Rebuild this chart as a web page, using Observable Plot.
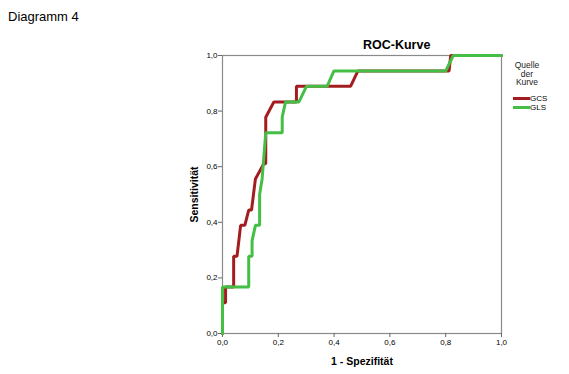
<!DOCTYPE html>
<html><head><meta charset="utf-8">
<script src="https://cdn.jsdelivr.net/npm/d3@7"></script>
<script src="https://cdn.jsdelivr.net/npm/@observablehq/plot@0.6"></script>
<style>
body{margin:0;background:#fff;font-family:"Liberation Sans",Arial,sans-serif;}
#wrap{position:relative;width:569px;height:374px;overflow:hidden;}
#wrap svg{position:absolute;left:0;top:0;}
.abs{position:absolute;white-space:nowrap;color:#000;}
[aria-label="x-axis label"],[aria-label="y-axis label"]{font-weight:bold;font-size:10.5px;}
</style></head><body>
<div id="wrap"></div>
<script>
const seriesNames = ["GCS", "GLS"];
const seriesColors = ["#a31d20", "#45be45"];
const gcsFpr = [0, 0, 0.011, 0.011, 0.040, 0.040, 0.052, 0.065, 0.080, 0.094, 0.104, 0.118, 0.148, 0.155, 0.155, 0.184, 0.265, 0.265, 0.459, 0.485, 0.812, 0.818, 1];
const gcsTpr = [0, 0.111, 0.111, 0.167, 0.167, 0.278, 0.278, 0.389, 0.389, 0.444, 0.444, 0.556, 0.611, 0.611, 0.778, 0.833, 0.833, 0.889, 0.889, 0.944, 0.944, 1, 1];
const glsFpr = [0, 0, 0.094, 0.094, 0.106, 0.106, 0.118, 0.133, 0.133, 0.142, 0.155, 0.214, 0.214, 0.226, 0.274, 0.301, 0.375, 0.399, 0.800, 0.827, 1];
const glsTpr = [0, 0.167, 0.167, 0.278, 0.278, 0.333, 0.389, 0.389, 0.500, 0.556, 0.722, 0.722, 0.778, 0.833, 0.833, 0.889, 0.889, 0.944, 0.944, 1, 1];
const ticks = [0, 0.2, 0.4, 0.6, 0.8, 1.0];
const tickLabels = ["0,0", "0,2", "0,4", "0,6", "0,8", "1,0"];

const data = [
  ...gcsFpr.map((x, i) => ({x, y: gcsTpr[i], s: seriesNames[0]})),
  ...glsFpr.map((x, i) => ({x, y: glsTpr[i], s: seriesNames[1]}))
];
const fmt = d => tickLabels[ticks.findIndex(t => Math.abs(t - d) < 1e-9)];

const chart = Plot.plot({
  width: 569, height: 374,
  marginLeft: 222, marginRight: 68, marginTop: 55, marginBottom: 41,
  style: {fontFamily: "'Liberation Sans', Arial, sans-serif", fontSize: "8px", background: "transparent", color: "#000"},
  x: {domain: [0, 1]},
  y: {domain: [0, 1]},
  color: {domain: seriesNames, range: seriesColors},
  marks: [
    Plot.frame({stroke: "#8a8a8a", strokeWidth: 1.2}),
    Plot.axisX({ticks, tickFormat: fmt, tickSize: 4, tickPadding: 2, stroke: "#666",
      label: "1 - Spezifität", labelAnchor: "center", labelOffset: 31, labelArrow: "none"}),
    Plot.axisY({ticks, tickFormat: fmt, tickSize: 4, tickPadding: 1, stroke: "#666",
      label: "Sensitivität", labelAnchor: "center", labelOffset: 32, labelArrow: "none"}),
    Plot.line(data, {x: "x", y: "y", z: "s", stroke: "s", strokeWidth: 3, strokeLinejoin: "miter", curve: "linear"})
  ]
});
const wrap = document.getElementById("wrap");
wrap.appendChild(chart);

function addDiv(text, css) {
  const d = document.createElement("div");
  d.className = "abs"; d.textContent = text; d.style.cssText += css;
  wrap.appendChild(d); return d;
}
addDiv("Diagramm 4", "left:8px;top:9px;font-size:13px;");
addDiv("ROC-Kurve", "left:363px;top:38px;font-size:12.5px;font-weight:bold;");
const lg = addDiv("", "left:505px;top:61px;width:44px;text-align:center;font-size:8.5px;line-height:8.5px;color:#222;");
lg.innerHTML = "Quelle<br>der<br>Kurve";
seriesNames.forEach((n, i) => {
  const row = document.createElement("div");
  row.className = "abs";
  row.style.cssText = `left:513px;top:${94 + i * 9}px;font-size:8px;line-height:9px;display:flex;align-items:center;`;
  const sw = document.createElement("span");
  sw.style.cssText = `display:inline-block;width:17px;height:3px;background:${seriesColors[i]};`;
  const t = document.createElement("span"); t.textContent = n;
  row.appendChild(sw); row.appendChild(t);
  wrap.appendChild(row);
});
</script>
</body></html>
